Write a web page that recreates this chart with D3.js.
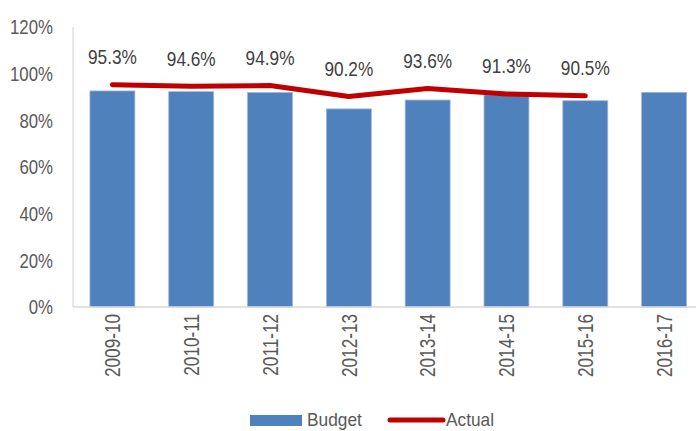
<!DOCTYPE html>
<html>
<head>
<meta charset="utf-8">
<script src="https://cdn.jsdelivr.net/npm/d3@7"></script>
<style>
  body { margin: 0; background: #fff; }
  text { font-family: "Liberation Sans", Arial, sans-serif; fill: #595959; }
</style>
</head>
<body>
<div class="chart"></div>
<script>
// data
var years = ["2009-10", "2010-11", "2011-12", "2012-13", "2013-14", "2014-15", "2015-16", "2016-17"];
var budget = [0.926, 0.923, 0.919, 0.849, 0.887, 0.909, 0.884, 0.920];
var actual = [0.953, 0.946, 0.949, 0.902, 0.936, 0.913, 0.905];
var yTicks = [0, 0.2, 0.4, 0.6, 0.8, 1.0, 1.2];

var width = 696, height = 431;
var barColor = "#4F81BD";
var lineColor = "#C00000";

var svg = d3.select(".chart").append("svg")
            .attr("width", width)
            .attr("height", height);

var xScale = d3.scaleBand()
               .domain(years)
               .range([73, 703.5])
               .paddingInner(0.43)
               .paddingOuter(0.215);
var yScale = d3.scaleLinear()
               .domain([0, 1.2])
               .range([307, 27]);

// the original font is narrow, so squeeze the text sideways
function squeezeText(sel, k) {
  sel.each(function () {
    var w = this.getComputedTextLength();
    d3.select(this).attr("textLength", w * k).attr("lengthAdjust", "spacingAndGlyphs");
  });
}

// bars
svg.selectAll("rect.bar")
   .data(budget)
   .enter()
   .append("rect")
   .attr("class", "bar")
   .attr("x", function (d, i) { return xScale(years[i]); })
   .attr("y", function (d) { return yScale(d); })
   .attr("width", xScale.bandwidth())
   .attr("height", function (d) { return yScale(0) - yScale(d); })
   .attr("fill", barColor)
   .attr("stroke", "#9DB7DA")
   .attr("stroke-width", 0.8);

// axes lines
svg.append("line")
   .attr("x1", 73).attr("x2", 73)
   .attr("y1", yScale(1.2)).attr("y2", yScale(0))
   .attr("stroke", "#D9D9D9").attr("stroke-width", 1.2);
svg.append("line")
   .attr("x1", 73).attr("x2", width)
   .attr("y1", yScale(0)).attr("y2", yScale(0))
   .attr("stroke", "#D9D9D9").attr("stroke-width", 1.5);

// y axis labels
var yAxis = d3.axisLeft(yScale)
              .tickValues(yTicks)
              .tickFormat(d3.format(".0%"))
              .tickSize(0)
              .tickPadding(0);
var gy = svg.append("g")
            .attr("id", "y-axis")
            .attr("transform", "translate(53,0)")
            .call(yAxis);
gy.select(".domain").remove();
gy.selectAll("text")
  .attr("font-family", null)
  .attr("font-size", null)
  .style("font-size", "21px")
  .style("fill", "#595959")
  .call(squeezeText, 0.8);

// x axis labels, rotated
svg.selectAll("text.xlab")
   .data(years)
   .enter()
   .append("text")
   .attr("class", "xlab")
   .attr("transform", function (d) {
     return "translate(" + (xScale(d) + xScale.bandwidth() / 2) + ",314) rotate(-90)";
   })
   .attr("text-anchor", "end")
   .attr("dy", "0.35em")
   .style("font-size", "22px")
   .text(function (d) { return d; })
   .call(squeezeText, 0.78);

// actual line
var line = d3.line()
             .x(function (d, i) { return xScale(years[i]) + xScale.bandwidth() / 2; })
             .y(function (d) { return yScale(d); });
svg.append("path")
   .datum(actual)
   .attr("d", line)
   .attr("fill", "none")
   .attr("stroke", lineColor)
   .attr("stroke-width", 5)
   .attr("stroke-linecap", "round")
   .attr("stroke-linejoin", "round");

// data labels
svg.selectAll("text.vlab")
   .data(actual)
   .enter()
   .append("text")
   .attr("class", "vlab")
   .attr("x", function (d, i) { return xScale(years[i]) + xScale.bandwidth() / 2; })
   .attr("y", function (d) { return yScale(d) - 28; })
   .attr("dy", "0.35em")
   .attr("text-anchor", "middle")
   .style("font-size", "21px")
   .style("fill", "#404040")
   .text(function (d) { return d3.format(".1%")(d); })
   .call(squeezeText, 0.82);

// legend
svg.append("rect")
   .attr("x", 250).attr("y", 415)
   .attr("width", 52).attr("height", 11)
   .attr("fill", barColor);
svg.append("text")
   .attr("x", 307).attr("y", 419)
   .attr("dy", "0.35em")
   .style("font-size", "19px")
   .text("Budget")
   .call(squeezeText, 0.91);
svg.append("line")
   .attr("x1", 390).attr("x2", 443)
   .attr("y1", 420).attr("y2", 420)
   .attr("stroke", lineColor)
   .attr("stroke-width", 5)
   .attr("stroke-linecap", "round");
svg.append("text")
   .attr("x", 446).attr("y", 419)
   .attr("dy", "0.35em")
   .style("font-size", "19px")
   .text("Actual")
   .call(squeezeText, 0.91);
</script>
</body>
</html>
